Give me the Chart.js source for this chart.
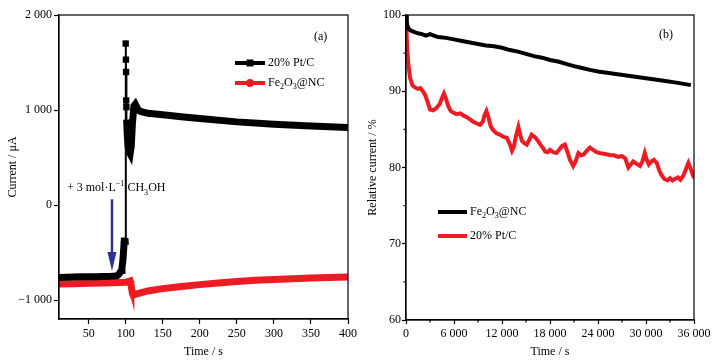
<!DOCTYPE html>
<html>
<head>
<meta charset="utf-8">
<script src="https://cdn.jsdelivr.net/npm/chart.js@4.4.1/dist/chart.umd.min.js"></script>
<style>
  html, body { margin: 0; padding: 0; background: #fff; }
  #wrap { position: relative; width: 714px; height: 364px; overflow: hidden; }
  canvas { position: absolute; top: 0; }
  #chartA { left: 0; }
  #chartB { left: 357px; }
</style>
</head>
<body>
<div id="wrap">
  <canvas id="chartA" width="372" height="364"></canvas>
  <canvas id="chartB" width="357" height="364"></canvas>
</div>
<script>
// (a) current vs time, methanol injected near 80 s
const timeA_pt = [10, 20, 30, 40, 50, 60, 70, 80, 85, 88,
                  90, 92, 94, 95, 96, 97, 98, 99, 99.6, 100,
                  100.3, 100.5, 100.7, 100.9, 101.3, 102, 103, 104, 106, 107.5,
                  109, 111, 113, 115, 117, 120, 125, 130, 150, 175,
                  200, 250, 300, 350, 400];
const currentA_pt = [-762, -760, -758, -756, -755, -754, -752, -750, -748, -745,
                     -735, -715, -690, -660, -600, -500, -380, -350, -420, 1700,
                     1530, 1400, 1100, 1030, 900, 760, 640, 570, 540, 620,
                     850, 1040, 1060, 1030, 1000, 985, 975, 965, 950, 930,
                     910, 875, 850, 832, 815];
const timeA_fe = [10, 30, 50, 70, 90, 100, 104, 106, 107, 108,
                  109, 110, 112, 115, 120, 130, 150, 175, 200, 225,
                  250, 275, 300, 350, 400];
const currentA_fe = [-832, -828, -824, -820, -815, -812, -805, -800, -830, -880,
                     -930, -950, -945, -935, -925, -905, -880, -858, -838, -820,
                     -805, -793, -783, -768, -757];
const ticksA_x = [50, 100, 150, 200, 250, 300, 350, 400];
const ticksA_y = [-1000, 0, 1000, 2000];

// (b) relative current over 10 h
const timeB_fe = [0, 100, 200, 400, 700, 1000, 1500, 2000, 2500, 3000,
                  3500, 4000, 5000, 6000, 7000, 8000, 9000, 10000, 11000, 12000,
                  13000, 14000, 15000, 16000, 17000, 18000, 19000, 20000, 21000, 22000,
                  23000, 24000, 26000, 28000, 30000, 32000, 34000, 35600];
const relB_fe = [100, 99.0, 98.5, 98.1, 97.9, 97.8, 97.6, 97.5, 97.3, 97.5,
                 97.3, 97.1, 97.0, 96.8, 96.6, 96.4, 96.2, 96.0, 95.9, 95.7,
                 95.4, 95.2, 94.9, 94.6, 94.4, 94.1, 93.9, 93.6, 93.3, 93.05,
                 92.8, 92.6, 92.3, 92.0, 91.7, 91.4, 91.1, 90.8];
const timeB_pt = [0, 150, 300, 500, 800, 1100, 1500, 1800, 2100, 2400,
                  2700, 3000, 3400, 3800, 4200, 4500, 4750, 5000, 5300, 5600,
                  5900, 6300, 6800, 7200, 7600, 8000, 8400, 8800, 9250, 9600,
                  9800, 10050, 10300, 10600, 10900, 11300, 11750, 12200, 12600, 13000,
                  13250, 13500, 13700, 14050, 14300, 14500, 14800, 15100, 15400, 15700,
                  16100, 16500, 16800, 17100, 17400, 17700, 18000, 18400, 18800, 19200,
                  19500, 19850, 20200, 20500, 20900, 21200, 21550, 21900, 22200, 22600,
                  23000, 23400, 23800, 24200, 24700, 25200, 25600, 26000, 26500, 27000,
                  27400, 27800, 28100, 28400, 28800, 29250, 29550, 29850, 30100, 30350,
                  30700, 31000, 31350, 31700, 31950, 32300, 32700, 33000, 33300, 33600,
                  34000, 34300, 34700, 35000, 35300, 35600, 36000];
const relB_pt = [100, 95.5, 93.5, 91.8, 90.8, 90.5, 90.3, 90.4, 90.0, 89.5,
                 88.6, 87.6, 87.5, 87.8, 88.3, 89.1, 89.7, 89.0, 88.0, 87.4,
                 87.2, 87.0, 87.1, 86.8, 86.6, 86.3, 86.0, 85.8, 85.6, 86.0,
                 86.8, 87.4, 86.6, 85.4, 84.9, 84.5, 84.3, 84.0, 83.9, 83.0,
                 82.2, 82.8, 83.9, 85.3, 84.2, 83.5, 83.2, 83.0, 83.6, 84.3,
                 84.0, 83.5, 83.0, 82.6, 82.1, 82.0, 82.3, 82.0, 81.9, 82.4,
                 82.8, 83.0, 82.0, 81.0, 80.2, 80.8, 81.9, 81.6, 81.7, 82.2,
                 82.6, 82.3, 82.0, 81.9, 81.8, 81.7, 81.6, 81.6, 81.4, 81.5,
                 81.2, 80.0, 80.4, 80.8, 80.5, 80.2, 80.8, 81.9, 81.0, 80.4,
                 80.8, 81.0, 80.6, 79.5, 79.0, 78.5, 78.3, 78.6, 78.3, 78.5,
                 78.7, 78.4, 79.0, 79.8, 80.6, 79.8, 78.6];
const ticksB_x = [0, 6000, 12000, 18000, 24000, 30000, 36000];
const minorB_x = [3000, 9000, 15000, 21000, 27000, 33000];
const ticksB_y = [60, 70, 80, 90, 100];
const minorB_y = [65, 75, 85, 95];

const SERIF = '"Liberation Serif", "Times New Roman", serif';
const RED = '#ed1c24';
const BLUE = '#2e3192';

const labelPt = [['20% Pt/C']];
const labelFe = [['Fe'], ['2', 'sub'], ['O'], ['3', 'sub'], ['@NC']];

function fmt(v) {
    const s = Math.abs(v).toString().replace(/\B(?=(\d{3})+(?!\d))/g, ' ');
    return (v < 0 ? '\u2212' : '') + s;
}

function pairs(xs, ys) {
    return xs.map(function (x, i) { return { x: x, y: ys[i] }; });
}

// text with sub/superscripts
function drawRich(ctx, parts, x, y, size) {
    parts.forEach(function (p) {
        const sz = p[1] ? size * 0.68 : size;
        ctx.font = sz + 'px ' + SERIF;
        let dy = 0;
        if (p[1] === 'sub') dy = size * 0.3;
        if (p[1] === 'sup') dy = -size * 0.4;
        ctx.fillText(p[0], x, y + dy);
        x += ctx.measureText(p[0]).width;
    });
}

function marker(ctx, style, x, y, color) {
    ctx.fillStyle = color;
    if (style === 'rect') {
        ctx.fillRect(x - 3.5, y - 3.5, 7, 7);
    } else if (style === 'circle') {
        ctx.beginPath();
        ctx.arc(x, y, 4, 0, Math.PI * 2);
        ctx.fill();
    }
}

const decor = {
    id: 'decor',
    afterDraw: function (chart, args, opts) {
        const ctx = chart.ctx;
        const a = chart.chartArea;
        ctx.save();
        ctx.strokeStyle = '#000';
        ctx.lineWidth = 1.2;
        ctx.strokeRect(a.left, a.top, a.right - a.left, a.bottom - a.top);

        // minor ticks
        if (opts.minorX) {
            const sx = chart.scales.x;
            opts.minorX.forEach(function (v) {
                const px = sx.getPixelForValue(v);
                ctx.beginPath();
                ctx.moveTo(px, a.bottom);
                ctx.lineTo(px, a.bottom + 2.5);
                ctx.stroke();
            });
        }
        if (opts.minorY) {
            const sy = chart.scales.y;
            opts.minorY.forEach(function (v) {
                const py = sy.getPixelForValue(v);
                ctx.beginPath();
                ctx.moveTo(a.left, py);
                ctx.lineTo(a.left - 2.5, py);
                ctx.stroke();
            });
        }

        // panel tag
        ctx.fillStyle = '#000';
        ctx.textBaseline = 'middle';
        ctx.font = '12px ' + SERIF;
        ctx.fillText(opts.tag[0], opts.tag[1], opts.tag[2]);

        // legend
        const lg = opts.legend;
        lg.rows.forEach(function (row, i) {
            const ds = chart.data.datasets[i];
            ctx.strokeStyle = ds.borderColor;
            ctx.lineWidth = 4;
            ctx.beginPath();
            ctx.moveTo(lg.x0, row.y);
            ctx.lineTo(lg.x1, row.y);
            ctx.stroke();
            marker(ctx, row.marker, (lg.x0 + lg.x1) / 2, row.y, ds.borderColor);
            ctx.fillStyle = '#000';
            ctx.textBaseline = 'middle';
            drawRich(ctx, row.parts, lg.tx, row.y, 12);
        });

        if (opts.extra) opts.extra(chart, ctx);
        ctx.restore();
    }
};

function axisCommon(tickLen, pad) {
    return {
        grid: { display: true, drawOnChartArea: false, drawTicks: true, tickLength: tickLen, tickColor: '#000', tickWidth: 1.2 },
        border: { display: true, color: '#000', width: 1.2 },
        ticks: { color: '#000', font: { family: SERIF, size: 12 }, padding: pad, autoSkip: false, maxRotation: 0,
                 callback: function (v) { return fmt(v); } }
    };
}

function scaleX(min, max, ticks, h, title, tickLen, pad) {
    return Object.assign(axisCommon(tickLen, pad), {
        type: 'linear', min: min, max: max,
        afterBuildTicks: function (s) { s.ticks = ticks.map(function (v) { return { value: v }; }); },
        afterFit: function (s) { s.height = h; },
        title: { display: true, text: title, color: '#000', font: { family: SERIF, size: 12 }, padding: { top: 0, bottom: 5 } }
    });
}

function scaleY(min, max, ticks, w, title, titlePad, tickLen, pad) {
    return Object.assign(axisCommon(tickLen, pad), {
        type: 'linear', min: min, max: max,
        afterBuildTicks: function (s) { s.ticks = ticks.map(function (v) { return { value: v }; }); },
        afterFit: function (s) { s.width = w; },
        title: { display: true, text: title, color: '#000', font: { family: SERIF, size: 12 }, padding: { top: titlePad, bottom: 0 } }
    });
}

Chart.defaults.font.family = SERIF;

new Chart(document.getElementById('chartA'), {
    type: 'line',
    data: {
        datasets: [
            {
                label: '20% Pt/C',
                data: pairs(timeA_pt, currentA_pt),
                borderColor: '#000',
                backgroundColor: '#000',
                borderWidth: 7,
                pointStyle: 'rect',
                pointBorderWidth: 0,
                pointBackgroundColor: '#000',
                pointRadius: function (c) {
                    const x = c.raw ? c.raw.x : 0;
                    return x >= 100 && x <= 100.95 ? 4.5 : 0;
                },
                segment: {
                    borderWidth: function (c) {
                        return Math.abs(c.p1.parsed.x - c.p0.parsed.x) < 0.5 ? 2 : 7;
                    }
                }
            },
            {
                label: 'Fe\u2082O\u2083@NC',
                data: pairs(timeA_fe, currentA_fe),
                borderColor: RED,
                backgroundColor: RED,
                borderWidth: 7,
                pointRadius: 0
            }
        ]
    },
    options: {
        responsive: false,
        animation: false,
        events: [],
        layout: { padding: { top: 15, right: 24, left: 0, bottom: 0 } },
        scales: {
            x: scaleX(10, 400, ticksA_x, 45, 'Time / s', 5, 3),
            y: scaleY(-1200, 2000, ticksA_y, 59, 'Current / \u03bcA', 6, 5, 2)
        },
        plugins: {
            legend: { display: false },
            tooltip: { enabled: false },
            decor: {
                tag: ['(a)', 314, 37],
                legend: {
                    x0: 235, x1: 265, tx: 268,
                    rows: [
                        { y: 63, parts: labelPt, marker: 'rect' },
                        { y: 83, parts: labelFe, marker: 'circle' }
                    ]
                },
                extra: function (chart, ctx) {
                    const sx = chart.scales.x, sy = chart.scales.y;
                    const ax = sx.getPixelForValue(81.5);
                    const top = sy.getPixelForValue(60);
                    const tip = sy.getPixelForValue(-694);
                    ctx.strokeStyle = BLUE;
                    ctx.fillStyle = BLUE;
                    ctx.lineWidth = 2.5;
                    ctx.beginPath();
                    ctx.moveTo(ax, top);
                    ctx.lineTo(ax, tip - 14);
                    ctx.stroke();
                    ctx.beginPath();
                    ctx.moveTo(ax, tip);
                    ctx.lineTo(ax - 4.5, tip - 19);
                    ctx.lineTo(ax + 4.5, tip - 19);
                    ctx.closePath();
                    ctx.fill();
                    ctx.fillStyle = '#000';
                    ctx.textBaseline = 'alphabetic';
                    drawRich(ctx, [['+ 3 mol\u00b7L'], ['\u22121', 'sup'], [' CH'], ['3', 'sub'], ['OH']], 67, 191, 12);
                }
            }
        }
    },
    plugins: [decor]
});

new Chart(document.getElementById('chartB'), {
    type: 'line',
    data: {
        datasets: [
            {
                label: 'Fe\u2082O\u2083@NC',
                data: pairs(timeB_fe, relB_fe),
                borderColor: '#000',
                borderWidth: 4,
                pointRadius: 0
            },
            {
                label: '20% Pt/C',
                data: pairs(timeB_pt, relB_pt),
                borderColor: RED,
                borderWidth: 4,
                pointRadius: 0
            }
        ]
    },
    options: {
        responsive: false,
        animation: false,
        events: [],
        layout: { padding: { top: 15, right: 20, left: 0, bottom: 0 } },
        scales: {
            x: scaleX(0, 36000, ticksB_x, 44, 'Time / s', 4, 3),
            y: scaleY(60, 100, ticksB_y, 49, 'Relative current / %', 9, 4, 1)
        },
        plugins: {
            legend: { display: false },
            tooltip: { enabled: false },
            decor: {
                tag: ['(b)', 302, 35],
                minorX: minorB_x,
                minorY: minorB_y,
                legend: {
                    x0: 81, x1: 110, tx: 113,
                    rows: [
                        { y: 212, parts: labelFe, marker: null },
                        { y: 236, parts: labelPt, marker: null }
                    ]
                }
            }
        }
    },
    plugins: [decor]
});
</script>
</body>
</html>
